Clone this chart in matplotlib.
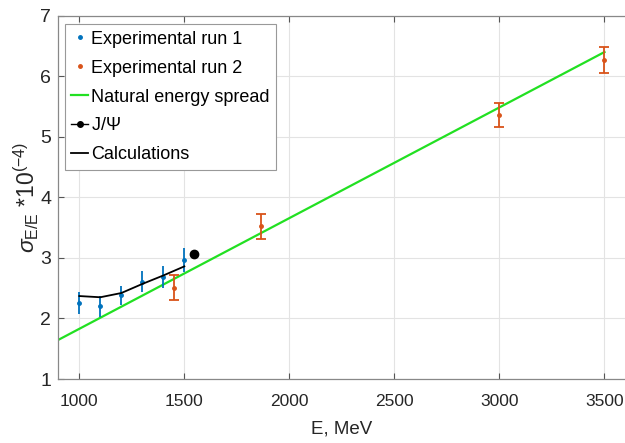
import matplotlib
matplotlib.use("Agg")
import matplotlib.pyplot as plt
from matplotlib.lines import Line2D

# Data
run1_E = [1000, 1100, 1200, 1300, 1400, 1500]
run1_sigma = [2.26, 2.20, 2.38, 2.61, 2.69, 2.96]
run1_err = [0.18, 0.17, 0.16, 0.18, 0.18, 0.20]

run2_E = [1450, 1865, 3000, 3500]
run2_sigma = [2.51, 3.52, 5.36, 6.27]
run2_err = [0.21, 0.21, 0.20, 0.21]

jpsi_E = [1548]
jpsi_sigma = [3.06]

calc_E = [1000, 1100, 1200, 1300, 1400, 1500]
calc_sigma = [2.37, 2.35, 2.42, 2.57, 2.71, 2.86]

natural_E = [900, 3500]
natural_sigma = [1.646, 6.40]

xticks = [1000, 1500, 2000, 2500, 3000, 3500]
yticks = [1, 2, 3, 4, 5, 6, 7]

plt.rcParams['font.family'] = ['Liberation Sans', 'DejaVu Sans']
plt.rcParams['mathtext.fontset'] = 'custom'
plt.rcParams['mathtext.rm'] = 'Liberation Sans'
plt.rcParams['mathtext.it'] = 'Liberation Sans:italic'
plt.rcParams['mathtext.sf'] = 'Liberation Sans'

BLUE = '#0072BD'
ORANGE = '#D95319'
GREEN = '#22e022'

fig = plt.figure(figsize=(6.25, 4.43), dpi=100)
ax = fig.add_axes([58.3/625, 1 - 379/443, (625.5 - 58.3)/625, (379 - 15.7)/443])

ax.plot(natural_E, natural_sigma, color=GREEN, lw=1.6, zorder=2)
ax.errorbar(run1_E, run1_sigma, yerr=run1_err, fmt='o', color=BLUE, ms=2.5,
            elinewidth=1.3, capsize=0, zorder=3)
ax.errorbar(run2_E, run2_sigma, yerr=run2_err, fmt='o', color=ORANGE, ms=2.5,
            elinewidth=1.3, capsize=3.3, capthick=1.3, zorder=3)
ax.plot(jpsi_E, jpsi_sigma, 'o', color='black', ms=6, zorder=4)
ax.plot(calc_E, calc_sigma, color='black', lw=1.3, zorder=4)

ax.set_xlim(900, 3600)
ax.set_ylim(1, 7)
ax.set_xticks(xticks)
ax.set_yticks(yticks)
ax.grid(True, color='#e3e3e3', lw=0.8)
ax.set_axisbelow(True)
ax.tick_params(direction='in', length=4, width=0.8, color='#555555',
               labelsize=12.5, top=True, labelcolor='#262626')
ax.tick_params(axis='y', labelsize=14, pad=5)
ax.tick_params(axis='x', pad=11)
for s in ['left', 'bottom', 'top']:
    ax.spines[s].set_color('#888888')
    ax.spines[s].set_linewidth(0.9)
ax.spines['right'].set_visible(False)

ax.set_xlabel('E, MeV', fontsize=13.5, color='#262626')
ax.set_ylabel(r'$\sigma_{\mathrm{E/E}}$ *10$^{(-4)}$', fontsize=16.5, color='#262626')
ax.xaxis.set_label_coords(0.5, -0.115)
ax.yaxis.set_label_coords(-0.03, 0.5)

handles = [
    Line2D([], [], marker='o', ls='none', color=BLUE, ms=2.5),
    Line2D([], [], marker='o', ls='none', color=ORANGE, ms=2.5),
    Line2D([], [], color=GREEN, lw=1.6),
    Line2D([], [], color='black', lw=1.0, marker='o', ms=4),
    Line2D([], [], color='black', lw=1.3),
]
labels = ['Experimental run 1', 'Experimental run 2', 'Natural energy spread',
          r'J/$\Psi$', 'Calculations']
leg = ax.legend(handles, labels, loc='upper left', bbox_to_anchor=(0.012, 0.976),
                fontsize=13, handlelength=0.9, handletextpad=0.2,
                borderpad=0.35, labelspacing=0.66, borderaxespad=0.0,
                frameon=True, fancybox=False, edgecolor='#999999',
                framealpha=1.0)
leg.get_frame().set_linewidth(0.8)

fig.savefig('out.png', dpi=100)
